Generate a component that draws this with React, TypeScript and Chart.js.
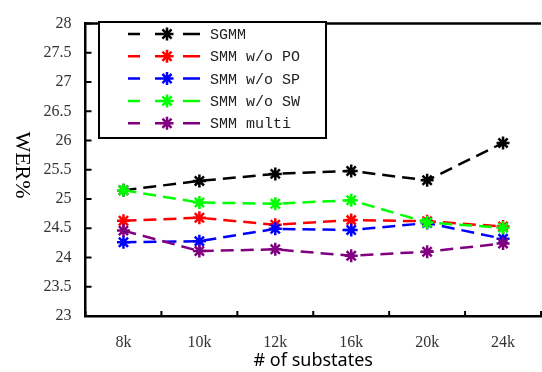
import React, { useEffect, useRef } from "react";
import { Chart, registerables } from "chart.js";

Chart.register(...registerables);

const categories = ["8k", "10k", "12k", "16k", "20k", "24k"];
const yTicks = [23, 23.5, 24, 24.5, 25, 25.5, 26, 26.5, 27, 27.5, 28];

const seriesNames = ["SGMM", "SMM w/o PO", "SMM w/o SP", "SMM w/o SW", "SMM multi"];
const seriesColors = ["#000000", "#ff0000", "#0000ff", "#00ff00", "#800080"];

const sgmm = [25.15, 25.31, 25.43, 25.48, 25.32, 25.96];
const smmWoPO = [24.63, 24.68, 24.56, 24.64, 24.62, 24.53];
const smmWoSP = [24.26, 24.28, 24.49, 24.47, 24.59, 24.32];
const smmWoSW = [25.15, 24.94, 24.92, 24.98, 24.6, 24.51];
const smmMulti = [24.46, 24.11, 24.14, 24.03, 24.1, 24.24];

const seriesValues = [sgmm, smmWoPO, smmWoSP, smmWoSW, smmMulti];

const DASH = [13, 7];

function drawStar(ctx: CanvasRenderingContext2D, x: number, y: number, r: number, color: string) {
  ctx.save();
  ctx.strokeStyle = color;
  ctx.lineWidth = 2.5;
  ctx.setLineDash([]);
  ctx.beginPath();
  for (let k = 0; k < 4; k++) {
    const a = (k * Math.PI) / 4;
    ctx.moveTo(x - r * Math.cos(a), y - r * Math.sin(a));
    ctx.lineTo(x + r * Math.cos(a), y + r * Math.sin(a));
  }
  ctx.stroke();
  ctx.restore();
}

const decorPlugin = {
  id: "decor",
  afterDraw(chart: any) {
    const ctx: CanvasRenderingContext2D = chart.ctx;
    const area = chart.chartArea;
    const xs = chart.scales.x;
    const ys = chart.scales.y;
    ctx.save();
    // top border
    ctx.strokeStyle = "#000";
    ctx.lineWidth = 2.5;
    ctx.beginPath();
    ctx.moveTo(area.left - 1.25, area.top);
    ctx.lineTo(area.right, area.top);
    ctx.stroke();
    // inward y ticks
    ctx.lineWidth = 2;
    ctx.beginPath();
    for (const v of yTicks) {
      const py = ys.getPixelForValue(v);
      ctx.moveTo(area.left, py);
      ctx.lineTo(area.left + 6, py);
    }
    // inward x ticks at category boundaries
    for (let i = 0; i <= categories.length; i++) {
      const px = xs.getPixelForValue(i - 0.5);
      ctx.moveTo(px, area.bottom);
      ctx.lineTo(px, area.bottom - 5);
    }
    ctx.stroke();

    // y-axis title rotated clockwise
    ctx.save();
    ctx.translate(22, 165);
    ctx.rotate(Math.PI / 2);
    ctx.fillStyle = "#000";
    ctx.font = "22px 'Liberation Serif'";
    ctx.textAlign = "center";
    ctx.textBaseline = "middle";
    ctx.fillText("WER%", 0, 0);
    ctx.restore();

    // legend
    const lx = 99, ly = 22, lw = 227, lh = 116;
    ctx.fillStyle = "#fff";
    ctx.fillRect(lx, ly, lw, lh);
    ctx.strokeStyle = "#000";
    ctx.lineWidth = 2;
    ctx.strokeRect(lx, ly, lw, lh);
    ctx.font = "15px 'Liberation Mono'";
    ctx.textBaseline = "middle";
    ctx.textAlign = "left";
    for (let i = 0; i < seriesNames.length; i++) {
      const ry = 34 + i * 22.3;
      const c = seriesColors[i];
      ctx.strokeStyle = c;
      ctx.lineWidth = 2.5;
      ctx.setLineDash([]);
      ctx.beginPath();
      ctx.moveTo(128, ry); ctx.lineTo(140, ry);
      ctx.moveTo(155, ry); ctx.lineTo(161, ry);
      ctx.moveTo(183, ry); ctx.lineTo(200, ry);
      ctx.stroke();
      drawStar(ctx, 167, ry, 6.5, c);
      ctx.fillStyle = "#222";
      ctx.fillText(seriesNames[i], 210, ry + 1);
    }
    ctx.restore();
  },
};

export default function App() {
  const ref = useRef<HTMLCanvasElement | null>(null);
  useEffect(() => {
    if (!ref.current) return;
    const chart = new Chart(ref.current, {
      type: "line",
      data: {
        labels: categories,
        datasets: seriesNames.map((name, i) => ({
          label: name,
          data: seriesValues[i],
          borderColor: seriesColors[i],
          backgroundColor: seriesColors[i],
          borderWidth: 2.5,
          borderDash: DASH,
          pointStyle: "star",
          pointRadius: 6.5,
          pointBorderWidth: 2.5,
          pointBorderColor: seriesColors[i],
          fill: false,
          tension: 0,
          order: seriesNames.length - i,
        })),
      },
      options: {
        animation: false,
        responsive: false,
        devicePixelRatio: 1,
        layout: { padding: { top: 11.5, right: 5, left: 0, bottom: 0 } },
        plugins: { legend: { display: false }, tooltip: { enabled: false } },
        scales: {
          x: {
            type: "category",
            offset: true,
            grid: { display: false, drawTicks: false, offset: true },
            border: { display: true, color: "#000", width: 2.5 },
            ticks: {
              color: "#333",
              font: { family: "'Liberation Serif'", size: 16 },
              padding: 17,
              maxRotation: 0,
            },
            title: {
              display: true,
              text: "# of substates",
              color: "#000",
              font: { family: "'Noto Sans'", size: 18 },
              padding: { top: 0, bottom: 0 },
            },
            afterFit: (s: any) => { s.height = 56; },
          },
          y: {
            type: "linear",
            min: 23,
            max: 28,
            grid: { display: false, drawTicks: false },
            border: { display: true, color: "#000", width: 2.5 },
            ticks: {
              stepSize: 0.5,
              color: "#333",
              font: { family: "'Liberation Serif'", size: 16 },
              padding: 14,
              callback: (v: any) => String(v),
            },
            afterFit: (s: any) => { s.width = 85.5; },
          },
        },
      },
      plugins: [decorPlugin],
    } as any);
    return () => chart.destroy();
  }, []);
  return (
    <div style={{ position: "absolute", left: 0, top: 0, width: 542, height: 372, overflow: "hidden", background: "#fff" }}>
      <canvas ref={ref} width={550} height={372} style={{ width: 550, height: 372, display: "block" }} />
    </div>
  );
}
